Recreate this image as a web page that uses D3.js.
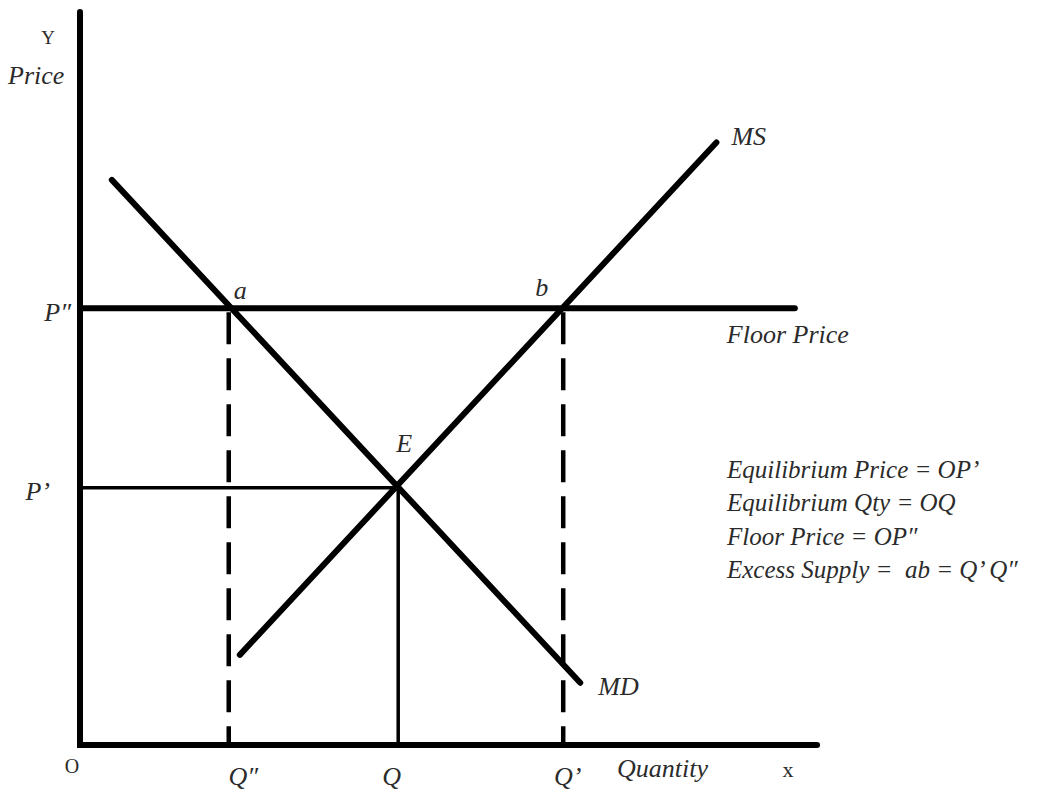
<!DOCTYPE html>
<html>
<head>
<meta charset="utf-8">
<script src="https://cdn.jsdelivr.net/npm/d3@7"></script>
<style>
  body { margin: 0; background: #fff; }
  svg text { font-family: "Liberation Serif", "Times New Roman", serif; fill: #2b2b2b; }
  .it { font-style: italic; }
</style>
</head>
<body>
<div id="chart"></div>
<script>
// quantities and prices in chart units (0..100 on each axis)
const demand = [{q: 4.3, p: 77.1}, {q: 67.6, p: 8.5}];
const supply = [{q: 21.6, p: 12.3}, {q: 86.0, p: 82.2}];
const floorPrice = 59.6;
const floorEnd = 96.6;
const eqPrice = 35.1;
const eqQty = 43.0;
const qLow = 20.1;   // Q'' (demanded at floor)
const qHigh = 65.3;  // Q'  (supplied at floor)

const qTicks = [qLow, eqQty, qHigh];
const qTickLabels = ["Q\u2033", "Q", "Q\u2019"];
const pTicks = [floorPrice, eqPrice];
const pTickLabels = ["P\u2033", "P\u2019"];

const notes = [
  "Equilibrium Price = OP\u2019",
  "Equilibrium Qty = OQ",
  "Floor Price = OP\u2033",
  "Excess Supply =  ab = Q\u2019 Q\u2033"
];

const W = 1050, H = 794;

const x = d3.scaleLinear().domain([0, 100]).range([80, 820]);
const y = d3.scaleLinear().domain([0, 100]).range([745, 12]);

const svg = d3.select("#chart").append("svg")
  .attr("width", W)
  .attr("height", H);

const line = d3.line()
  .x(function(d) { return x(d.q); })
  .y(function(d) { return y(d.p); });

// dashed drop lines from a and b
[qLow, qHigh].forEach(function(q) {
  svg.append("path")
    .attr("d", line([{q: q, p: floorPrice}, {q: q, p: 0}]))
    .attr("stroke", "#000")
    .attr("stroke-width", 4.5)
    .attr("stroke-dasharray", "32,14")
    .attr("stroke-dashoffset", -4)
    .attr("fill", "none");
});

// equilibrium guides
svg.append("path")
  .attr("d", line([{q: 0, p: eqPrice}, {q: eqQty, p: eqPrice}, {q: eqQty, p: 0}]))
  .attr("stroke", "#000")
  .attr("stroke-width", 3.5)
  .attr("fill", "none");

// floor price line
svg.append("path")
  .attr("d", line([{q: 0, p: floorPrice}, {q: floorEnd, p: floorPrice}]))
  .attr("stroke", "#000")
  .attr("stroke-width", 6)
  .attr("stroke-linecap", "round")
  .attr("fill", "none");

// demand and supply
[demand, supply].forEach(function(s) {
  svg.append("path")
    .attr("d", line(s))
    .attr("stroke", "#000")
    .attr("stroke-width", 6)
    .attr("stroke-linecap", "round")
    .attr("fill", "none");
});

// axes
svg.append("path")
  .attr("d", line([{q: 0, p: 100}, {q: 0, p: 0}, {q: 99.6, p: 0}]))
  .attr("stroke", "#000")
  .attr("stroke-width", 6)
  .attr("stroke-linecap", "round")
  .attr("stroke-linejoin", "miter")
  .attr("fill", "none");

const xAxis = svg.append("g")
  .attr("transform", "translate(0," + y(0) + ")")
  .call(d3.axisBottom(x)
    .tickValues(qTicks)
    .tickSize(0)
    .tickPadding(22)
    .tickFormat(function(d, i) { return qTickLabels[i]; }));
xAxis.select(".domain").remove();
xAxis.selectAll("text")
  .attr("class", "it")
  .attr("font-size", 26)
  .attr("fill", "#2b2b2b")
  .attr("dx", function(d, i) { return [14, -7, 4][i]; });

const yAxis = svg.append("g")
  .attr("transform", "translate(" + x(0) + ",0)")
  .call(d3.axisLeft(y)
    .tickValues(pTicks)
    .tickSize(0)
    .tickPadding(9)
    .tickFormat(function(d, i) { return pTickLabels[i]; }));
yAxis.select(".domain").remove();
yAxis.selectAll("text")
  .attr("class", "it")
  .attr("font-size", 26)
  .attr("fill", "#2b2b2b")
  .attr("dy", function(d, i) { return [12, 12][i]; })
  .attr("dx", function(d, i) { return [0, -21][i]; });

// axis titles
svg.append("text").attr("x", 48).attr("y", 44).attr("text-anchor", "middle")
  .attr("font-size", 19).text("Y");
svg.append("text").attr("class", "it").attr("x", 8).attr("y", 84)
  .attr("font-size", 26).text("Price");
svg.append("text").attr("x", 72).attr("y", 773).attr("text-anchor", "middle")
  .attr("font-size", 20).text("O");
svg.append("text").attr("class", "it").attr("x", 617).attr("y", 777)
  .attr("font-size", 26).text("Quantity");
svg.append("text").attr("x", 788).attr("y", 777).attr("text-anchor", "middle")
  .attr("font-size", 22).text("x");

// point and curve labels
function label(t, px, py, dx, dy) {
  svg.append("text").attr("class", "it")
    .attr("x", x(px) + dx).attr("y", y(py) + dy)
    .attr("font-size", 26).text(t);
}
label("a", qLow, floorPrice, 5, -9);
label("b", qHigh, floorPrice, -28, -12);
label("E", eqQty, eqPrice, -2, -36);
label("MS", supply[1].q, supply[1].p, 15, 3);
label("MD", demand[1].q, demand[1].p, 18, 12);
label("Floor Price", floorEnd, floorPrice, -68, 35);

// notes block
svg.append("g").selectAll("text")
  .data(notes)
  .join("text")
  .attr("class", "it")
  .attr("x", 727)
  .attr("y", function(d, i) { return 478 + i * 33.3; })
  .attr("font-size", 25)
  .attr("xml:space", "preserve")
  .style("white-space", "pre")
  .text(function(d) { return d; });
</script>
</body>
</html>
